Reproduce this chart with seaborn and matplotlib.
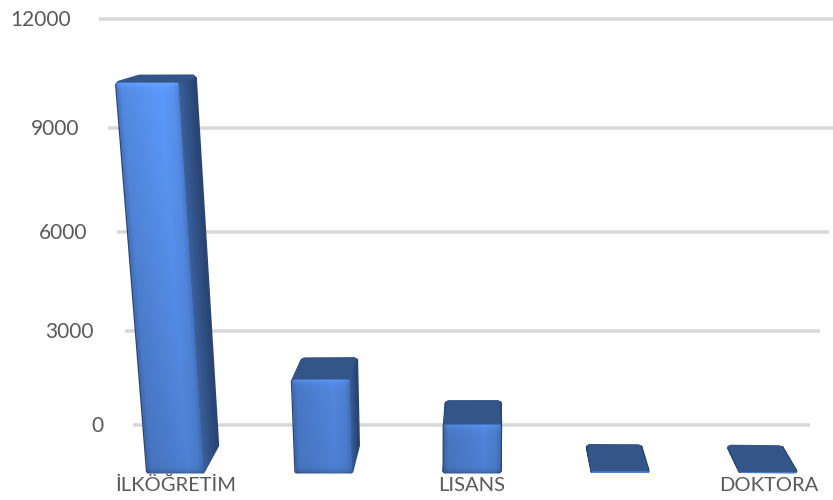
import numpy as np
import pandas as pd
import matplotlib
matplotlib.use("Agg")
import matplotlib.pyplot as plt
from matplotlib.colors import to_rgb
from matplotlib.patches import Polygon
from matplotlib.transforms import Transform, Affine2D, IdentityTransform
import seaborn as sns

categories = ["İLKÖĞRETİM", "ORTAÖĞRETİM", "LISANS", "YÜKSEK LİSANS", "DOKTORA"]
tick_labels = ["İLKÖĞRETİM", "", "LISANS", "", "DOKTORA"]
values = [10570, 2695, 1390, 50, 25]
y_ticks = [0, 3000, 6000, 9000, 12000]
y_tick_labels = ["0", "3000", "6000", "9000", "12000"]
y_label_right_px = [104, 94, 87, 79, 71]

W, H = 833, 500
sns.set_style("white")
plt.rcParams["font.family"] = ["Lato", "DejaVu Sans"]

# Perspective model of the pseudo-3D chart (pixels, y down)
VP_X, VP_Y, FLOOR_Y = 490.0, -50.0, 473.0
CAT0, CAT_STEP = 175.5, 148.25
TILT_X, TILT_K = 443.0, 0.00027
S_FRONT, S_BACK, S_WALL = 1.0, 0.95, 0.908
KNOTS = np.array([-30000, 0, 3000, 6000, 9000, 12000, 30000], float)
WALL_PX = np.array([-940, 0, 94, 193, 297, 406, 1060], float)


def forward(v):
    return np.interp(v, KNOTS, WALL_PX)


def inverse(p):
    return np.interp(p, WALL_PX, KNOTS)


def project(xc, v, s):
    xc, v = np.asarray(xc, float), np.asarray(v, float)
    x0 = CAT0 + CAT_STEP * xc
    hs = forward(v) / S_WALL * s
    xf = VP_X + (x0 - VP_X) * s
    yf = VP_Y + (FLOOR_Y - VP_Y) * s
    return xf + (xf - TILT_X) * TILT_K * hs, yf - hs


class Projection(Transform):
    input_dims = output_dims = 2
    is_affine = False
    has_inverse = False

    def __init__(self, s):
        super().__init__()
        self.s = s

    def transform_non_affine(self, values):
        values = np.asarray(values, float)
        x, y = project(values[:, 0], values[:, 1], self.s)
        return np.column_stack([x, H - y])


def disp(xc, v, s):
    x, y = project(xc, v, s)
    return float(x), float(H - y)


def inset(points, px):
    pts = np.array(points)
    c = pts.mean(axis=0)
    d = pts - c
    n = np.maximum(np.hypot(d[:, 0], d[:, 1]), 1e-6)
    return c + d * (np.maximum(n - px, 0) / n)[:, None]


df = pd.DataFrame({"category": categories, "value": values})
fig = plt.figure(figsize=(W / 100, H / 100), dpi=100, facecolor="white")
ax = fig.add_axes([0, 0, 1, 1])
sns.barplot(data=df, x="category", y="value", color="#4d80d2", saturation=1,
            width=0.378, ax=ax, zorder=3, linewidth=0)
ax.set_autoscale_on(False)
ax.set_yscale("function", functions=(forward, inverse))
XLIM = (-CAT0 / CAT_STEP, (W - CAT0) / CAT_STEP)
YLIM = (float(inverse(-75.0)), float(inverse(425.0)))
ax.set_xlim(*XLIM)
ax.set_ylim(*YLIM)
for s in ax.spines.values():
    s.set_visible(False)
ax.set_xlabel("")
ax.set_ylabel("")
ax.grid(False)

# gridlines on the slanted back wall
for t in y_ticks:
    ax.plot([-0.53, 4.5], [t, t], color="#d9d9d9", lw=2.6, solid_capstyle="butt",
            transform=Projection(S_WALL), zorder=1, scalex=False, scaley=False)

TEXT = "#595959"
ax.set_yticks(y_ticks, labels=y_tick_labels)
ax.minorticks_off()
ax.tick_params(axis="y", length=0, pad=0, labelsize=15, labelcolor=TEXT)
for lab, rx in zip(ax.get_yticklabels(), y_label_right_px):
    lab.set_transform(lab.get_transform() + Affine2D().translate(rx, 1))

ax.set_xticks(range(len(tick_labels)), labels=tick_labels)
ax.tick_params(axis="x", length=0, pad=-6.5, labelsize=14.5, labelcolor=TEXT)
for lab in ax.get_xticklabels():
    lab.set_va("baseline")

STOPS_U = [0.0, 0.08, 0.72, 0.92, 1.0]
STOPS_F = [0.82, 0.95, 1.06, 1.0, 0.88]
BASE = np.array(to_rgb("#4d80d2"))


def front_image(patch):
    x0, w, hv = patch.get_x(), patch.get_width(), patch.get_height()
    tl = disp(x0, hv, S_FRONT)
    tr = disp(x0 + w, hv, S_FRONT)
    bl = disp(x0, 0, S_FRONT)
    br = disp(x0 + w, 0, S_FRONT)
    if tl[1] - bl[1] < 3:
        return
    xa, xb = int(min(tl[0], bl[0])) - 1, int(max(tr[0], br[0])) + 2
    ya, yb = int(bl[1]) - 1, int(tl[1]) + 2
    xs = np.arange(xa, xb) + 0.5
    ys = np.arange(ya, yb) + 0.5
    X, Y = np.meshgrid(xs, ys)
    frac = (tl[1] - Y) / (tl[1] - bl[1])
    left = tl[0] + (bl[0] - tl[0]) * frac
    right = tr[0] + (br[0] - tr[0]) * frac
    u = (X - left) / (right - left)
    f = np.interp(u, STOPS_U, STOPS_F)
    py = H - Y
    f = f * np.interp(py, [83, 473], [1.13, 0.95])
    f = f + 0.14 * np.exp(-np.clip(tl[1] - Y, 0, None) / 3.5)
    f = f - 0.22 * np.exp(-np.clip(Y - bl[1], 0, None) / 2.5)
    rgb = np.clip(BASE[None, None, :] * f[..., None], 0, 1)
    inside = np.clip(np.minimum.reduce([X - left, right - X, tl[1] - Y + 0.5, Y - bl[1] + 0.5]) + 0.5, 0, 1)
    rgba = np.dstack([rgb, inside])
    ax.imshow(rgba, extent=(xa, xb, ya, yb), origin="lower", aspect="auto",
              transform=IdentityTransform(), zorder=4, interpolation="nearest")


SIDE_NEAR = np.array(to_rgb("#3b609c"))
SIDE_FAR = np.array(to_rgb("#294573"))
TOP = "#345588"
N_STRIPS = 8
for patch in list(ax.patches):
    x0, w, hv = patch.get_x(), patch.get_width(), patch.get_height()
    x1 = x0 + w
    # side faces, both derived from the bar's own value
    for xe in (x0, x1):
        quad = [disp(xe, hv, S_FRONT), disp(xe, hv, S_BACK),
                disp(xe, 0, S_BACK), disp(xe, 0, S_FRONT)]
        ax.add_patch(Polygon(inset(quad, 1.5), closed=True, facecolor="#294573", edgecolor="#294573",
                             lw=2.2, joinstyle="round", transform=IdentityTransform(), zorder=2))
        depths = np.linspace(S_FRONT, S_BACK, N_STRIPS + 1)
        for i in range(N_STRIPS):
            mix = i / (N_STRIPS - 1)
            col = SIDE_NEAR * (1 - mix) + SIDE_FAR * mix
            strip = [disp(xe, hv, depths[i]), disp(xe, hv, depths[i + 1]),
                     disp(xe, 0, depths[i + 1]), disp(xe, 0, depths[i])]
            ax.add_patch(Polygon(inset(strip, 0.0), closed=True, facecolor=col, edgecolor=col, lw=0.4,
                                 transform=IdentityTransform(), zorder=2.1))
    top = [disp(x0, hv, S_FRONT), disp(x1, hv, S_FRONT),
           disp(x1, hv, S_BACK), disp(x0, hv, S_BACK)]
    ax.add_patch(Polygon(inset(top, 2.5), closed=True, facecolor=TOP, edgecolor=TOP, lw=3.2,
                         joinstyle="round", transform=IdentityTransform(), zorder=2.5))
    patch.set_transform(Projection(S_FRONT))
    front_image(patch)

ax.set_xlim(*XLIM)
ax.set_ylim(*YLIM)
ax.set_aspect("auto")
fig.savefig("out.png", dpi=100, facecolor="white")
